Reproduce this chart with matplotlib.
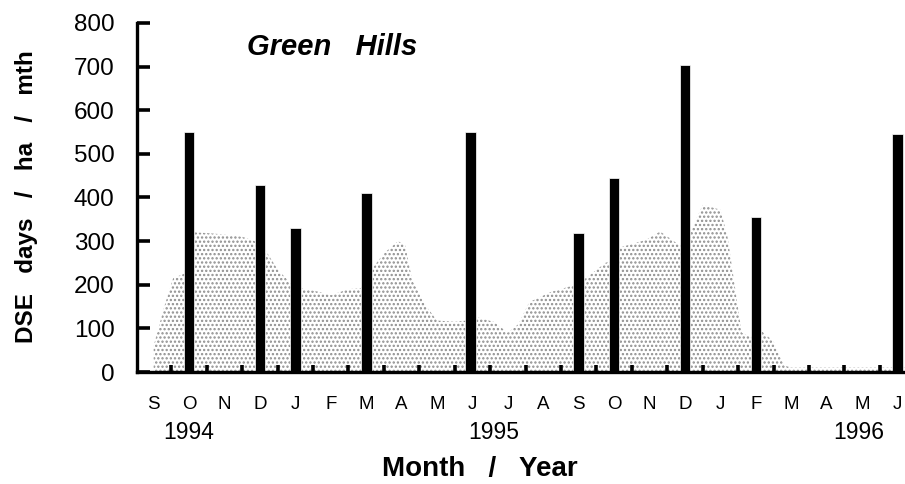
import matplotlib
matplotlib.use("Agg")
import matplotlib.pyplot as plt
import matplotlib.transforms as mtransforms

plt.rcParams['font.family'] = ['Liberation Sans', 'DejaVu Sans']
plt.rcParams['hatch.linewidth'] = 1.1

# Month axis: index 0 = Sep 1994 ... index 21 = Jun 1996
month_labels = ["S", "O", "N", "D", "J", "F", "M", "A", "M", "J", "J",
                "A", "S", "O", "N", "D", "J", "F", "M", "A", "M", "J"]
year_labels = ["1994", "1995", "1996"]
year_pos = [1.0, 9.6, 19.9]

# Grazing pressure (black bars)
graze_month = [1, 3, 4, 6, 8.95, 12, 13, 15, 17, 21]
graze_dse = [550, 429, 330, 410, 550, 318, 444, 704, 355, 546]

# Pasture availability envelope (stippled area)
pasture_month = [0.0, 0.3, 0.55, 0.85, 1.15, 1.6, 2.0, 2.5, 2.85, 3.15, 3.5,
                 3.85, 4.15, 4.6, 5.0, 5.5, 5.85, 6.15, 6.5, 6.9, 7.1, 7.3,
                 7.7, 8.0, 8.5, 8.85, 9.15, 9.6, 10.0, 10.3, 10.6, 11.2, 11.7,
                 11.9, 12.15, 12.75, 12.9, 13.15, 13.9, 14.3, 14.6, 14.85,
                 15.2, 15.5, 16.0, 16.2, 16.4, 16.6, 16.85, 17.15, 17.5, 17.8,
                 18.0, 19.0, 20.0, 21.2]
pasture_dse = [60, 150, 215, 225, 320, 318, 315, 310, 300, 280, 235,
               205, 192, 185, 176, 190, 192, 235, 272, 300, 290, 210,
               150, 118, 115, 118, 125, 115, 90, 110, 160, 183, 195,
               200, 212, 250, 255, 285, 303, 322, 305, 290,
               330, 383, 372, 310, 200, 90, 80, 95, 70, 15,
               10, 10, 10, 10]

fig = plt.figure(figsize=(9.05, 4.84), dpi=100)
ax = fig.add_axes([0.151, 0.2314, 0.849, 0.7211])

ax.fill_between(pasture_month, 0, pasture_dse, facecolor="white",
                edgecolor="#8e8e8e", hatch="....", linewidth=0, zorder=1)
ax.bar(graze_month, graze_dse, width=0.3, color="black",
       edgecolor="white", linewidth=0.5, zorder=3)

ax.set_xlim(-0.48, 21.21)
ax.set_ylim(0, 800)

ax.spines['top'].set_visible(False)
ax.spines['right'].set_visible(False)
ax.spines['left'].set_linewidth(2.4)
ax.spines['bottom'].set_linewidth(2.4)
ax.spines['left'].set_zorder(4)
ax.spines['bottom'].set_zorder(4)

ax.set_yticks(range(0, 801, 100))
ax.tick_params(axis='y', direction='in', length=9, width=2.6,
               labelsize=17.5, pad=16)
ax.set_xticks(range(len(month_labels)))
ax.set_xticklabels(month_labels)
ax.tick_params(axis='x', which='major', length=0, labelsize=13.5, pad=17)
ax.set_xticks([m + 0.5 for m in range(len(month_labels) - 1)], minor=True)
ax.tick_params(axis='x', which='minor', direction='in', length=5, width=2.6)

trans = mtransforms.blended_transform_factory(ax.transData, ax.transAxes)
for lab, pos in zip(year_labels, year_pos):
    ax.text(pos, -0.172, lab, transform=trans, ha="center", va="center",
            fontsize=16.5)

ax.text(0.143, 0.93, "Green   Hills", transform=ax.transAxes,
        fontsize=21, fontweight="bold", fontstyle="italic",
        ha="left", va="center")

fig.text(0.029, 0.593, "DSE   days   /   ha   /   mth", rotation=90,
         fontsize=17.5, fontweight="bold", ha="center", va="center")
fig.text(0.53, 0.032, "Month   /   Year", fontsize=20, fontweight="bold",
         ha="center", va="center")

fig.savefig("out.png", dpi=100)
